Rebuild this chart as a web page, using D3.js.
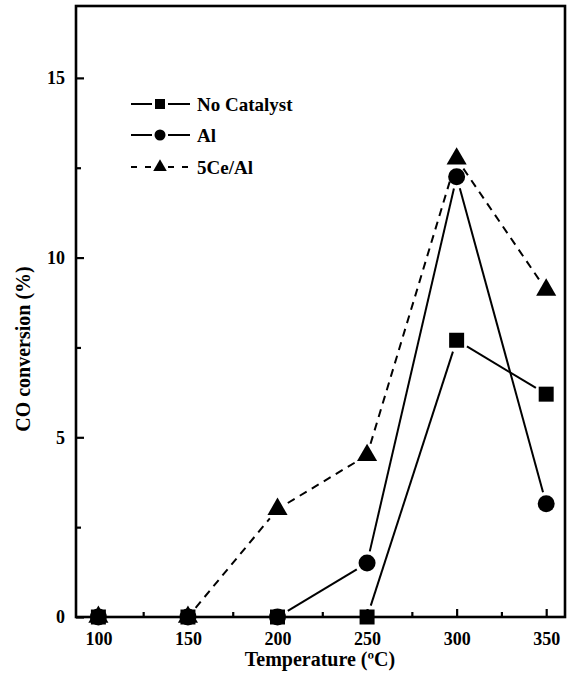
<!DOCTYPE html>
<html>
<head>
<meta charset="utf-8">
<script src="https://cdn.jsdelivr.net/npm/d3@7"></script>
<style>
  body { margin: 0; background: #fff; }
  svg text { font-family: "Liberation Serif", "Times New Roman", serif; font-weight: bold; fill: #000; }
</style>
</head>
<body>
<svg id="chart" width="568" height="675"></svg>
<script>
// Reaction temperature (°C) and CO conversion (%) for each catalyst
const temperatures = [100, 150, 200, 250, 300, 350];
const noCatalyst   = [0, 0, 0, 0, 7.7, 6.2];
const alumina      = [0, 0, 0, 1.5, 12.25, 3.15];
const ce5Alumina   = [0, 0, 3.0, 4.5, 12.75, 9.1];
const seriesNames  = ["No Catalyst", "Al", "5Ce/Al"];
const xMajorTicks  = [100, 150, 200, 250, 300, 350];
const xMinorTicks  = [125, 175, 225, 275, 325];
const yMajorTicks  = [0, 5, 10, 15];
const yMinorTicks  = [2.5, 7.5, 12.5];

const series = [
  { name: seriesNames[0], values: noCatalyst, symbol: d3.symbolSquare,   size: 225, legendSize: 100, dash: null },
  { name: seriesNames[1], values: alumina,    symbol: d3.symbolCircle,   size: 227, legendSize: 95,  dash: null },
  { name: seriesNames[2], values: ce5Alumina, symbol: d3.symbolTriangle, size: 175, legendSize: 80,  dash: "8,6" }
];

const svg = d3.select("#chart");
const plotLeft = 76, plotRight = 565, plotTop = 6, plotBottom = 617;

const x = d3.scaleLinear().domain([87.5, 360.5]).range([plotLeft, plotRight]);
const y = d3.scaleLinear().domain([0, 17]).range([plotBottom, plotTop]);

// Bottom axis: inward major ticks with labels, shorter minor ticks
const gx = svg.append("g").attr("transform", `translate(0,${plotBottom})`);
gx.call(d3.axisBottom(x).tickValues(xMajorTicks).tickSizeInner(-8).tickSizeOuter(0).tickPadding(15).tickFormat(d3.format("d")));
gx.call(g => g.selectAll("text").style("font-size", "18px"));
const gxm = svg.append("g").attr("transform", `translate(0,${plotBottom})`);
gxm.call(d3.axisBottom(x).tickValues(xMinorTicks).tickSizeInner(-5).tickSizeOuter(0).tickFormat(""));

// Left axis
const gy = svg.append("g").attr("transform", `translate(${plotLeft},0)`);
gy.call(d3.axisLeft(y).tickValues(yMajorTicks).tickSizeInner(-8).tickSizeOuter(0).tickPadding(11).tickFormat(d3.format("d")));
gy.call(g => g.selectAll("text").style("font-size", "18px"));
const gym = svg.append("g").attr("transform", `translate(${plotLeft},0)`);
gym.call(d3.axisLeft(y).tickValues(yMinorTicks).tickSizeInner(-5).tickSizeOuter(0).tickFormat(""));

svg.selectAll(".domain").remove();
svg.selectAll(".tick line").attr("stroke", "#000").attr("stroke-width", 2.2);

// Plot frame
svg.append("rect")
  .attr("x", plotLeft).attr("y", plotTop)
  .attr("width", plotRight - plotLeft).attr("height", plotBottom - plotTop)
  .attr("fill", "none").attr("stroke", "#000").attr("stroke-width", 2.6);

// Connecting segments stop short of each marker, leaving a small gap
const gap = 12;
series.forEach(s => {
  const pts = s.values.map((v, i) => [x(temperatures[i]), y(v)]);
  const segs = d3.pairs(pts).map(([a, b]) => {
    const dx = b[0] - a[0], dy = b[1] - a[1];
    const len = Math.hypot(dx, dy);
    const ux = dx / len, uy = dy / len;
    return { x1: a[0] + ux * gap, y1: a[1] + uy * gap, x2: b[0] - ux * gap, y2: b[1] - uy * gap, len };
  }).filter(d => d.len > 2 * gap);
  svg.append("g").selectAll("line")
    .data(segs)
    .join("line")
    .attr("x1", d => d.x1).attr("y1", d => d.y1)
    .attr("x2", d => d.x2).attr("y2", d => d.y2)
    .attr("stroke", "#000")
    .attr("stroke-width", 2)
    .attr("stroke-dasharray", s.dash);
});
series.forEach(s => {
  svg.append("g").selectAll("path")
    .data(s.values)
    .join("path")
    .attr("transform", (d, i) => `translate(${x(temperatures[i])},${y(d)})`)
    .attr("d", d3.symbol().type(s.symbol).size(s.size))
    .attr("fill", "#000");
});

// Legend
const legend = svg.append("g");
const rowY = [104, 135, 167];
series.forEach((s, i) => {
  const g = legend.append("g").attr("transform", `translate(0,${rowY[i]})`);
  [[131, 152], [168, 190]].forEach(([a, b]) => {
    g.append("line")
      .attr("x1", a).attr("x2", b)
      .attr("stroke", "#000").attr("stroke-width", 2)
      .attr("stroke-dasharray", s.dash ? "6,8" : null);
  });
  g.append("path")
    .attr("transform", "translate(160,0)")
    .attr("d", d3.symbol().type(s.symbol).size(s.legendSize))
    .attr("fill", "#000");
  g.append("text")
    .attr("x", 197).attr("y", 7)
    .style("font-size", "19px")
    .text(s.name);
});

// Axis titles
svg.append("text")
  .attr("x", 320).attr("y", 666)
  .attr("text-anchor", "middle")
  .style("font-size", "20px")
  .text("Temperature (ºC)");

svg.append("text")
  .attr("transform", "translate(30,349) rotate(-90)")
  .attr("text-anchor", "middle")
  .style("font-size", "20px")
  .text("CO conversion (%)");
</script>
</body>
</html>
